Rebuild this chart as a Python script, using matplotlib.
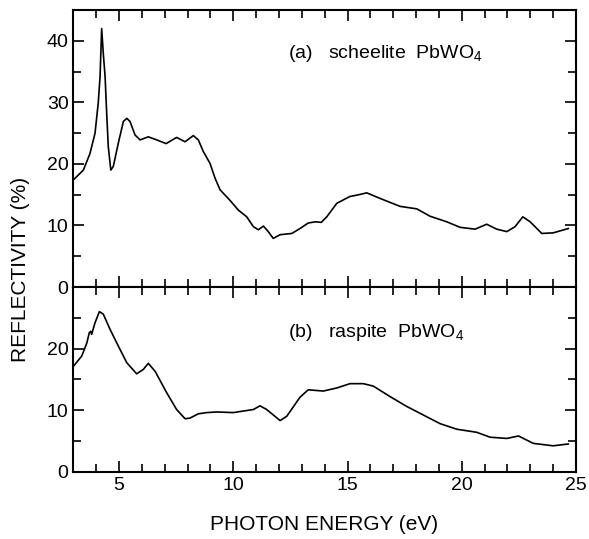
import matplotlib.pyplot as plt
from matplotlib.ticker import MultipleLocator

plt.rcParams['font.family'] = ['Liberation Sans', 'DejaVu Sans']
plt.rcParams['mathtext.fontset'] = 'custom'
plt.rcParams['mathtext.rm'] = 'Liberation Sans'
plt.rcParams['mathtext.it'] = 'Liberation Sans:italic'
plt.rcParams['mathtext.default'] = 'rm'

# (a) scheelite PbWO4
energy_a = [3.0, 3.44, 3.73, 3.95, 4.09, 4.17, 4.24, 4.31, 4.39, 4.46, 4.53, 4.64,
            4.75, 4.97, 5.19, 5.34, 5.48, 5.70, 5.92, 6.28, 6.65, 7.06, 7.52, 7.89,
            8.25, 8.47, 8.69, 8.98, 9.2, 9.42, 9.85, 10.22, 10.59, 10.88, 11.1, 11.32,
            11.53, 11.75, 12.05, 12.56, 12.92, 13.28, 13.6, 13.85, 14.09, 14.53,
            15.1, 15.5, 15.84, 16.42, 17.3, 18.03, 18.61, 19.34, 19.92, 20.58, 21.09,
            21.53, 21.97, 22.33, 22.67, 22.99, 23.5, 24.0, 24.66]
refl_a = [17.4, 19.0, 21.7, 25.0, 29.9, 34.2, 42.0, 38.0, 34.2, 28.2, 22.8, 19.0,
          19.6, 23.4, 26.9, 27.4, 26.9, 24.7, 23.9, 24.4, 23.9, 23.3, 24.3, 23.6,
          24.6, 23.9, 22.0, 20.1, 17.7, 15.8, 14.1, 12.5, 11.4, 9.8, 9.3, 9.9,
          9.0, 7.9, 8.5, 8.7, 9.5, 10.4, 10.6, 10.5, 11.4, 13.6,
          14.7, 15.0, 15.3, 14.4, 13.1, 12.7, 11.5, 10.6, 9.7, 9.4, 10.2,
          9.4, 9.0, 9.8, 11.4, 10.6, 8.7, 8.8, 9.5]

# (b) raspite PbWO4
energy_b = [3.0, 3.37, 3.59, 3.70, 3.76, 3.80, 3.95, 4.14, 4.31, 4.61, 4.97, 5.34,
            5.77, 6.06, 6.28, 6.58, 7.09, 7.52, 7.89, 8.1, 8.47, 8.84, 9.28, 10.0,
            10.88, 11.17, 11.46, 12.05, 12.34, 12.92, 13.28, 13.94, 14.53, 15.11,
            15.69, 16.13, 16.86, 17.59, 18.32, 19.05, 19.78, 20.65, 21.24, 21.97,
            22.48, 23.13, 24.0, 24.66]
refl_b = [17.1, 18.8, 20.9, 22.6, 22.8, 22.3, 24.2, 26.0, 25.6, 23.1, 20.4, 17.7,
          15.9, 16.6, 17.6, 16.3, 12.8, 10.1, 8.6, 8.7, 9.4, 9.6, 9.7, 9.6,
          10.1, 10.7, 10.1, 8.3, 9.0, 12.1, 13.3, 13.1, 13.6, 14.3,
          14.3, 13.9, 12.2, 10.6, 9.2, 7.8, 6.9, 6.4, 5.6, 5.4,
          5.8, 4.6, 4.2, 4.5]

fig = plt.figure(figsize=(5.89, 5.39), dpi=100)
ax1 = fig.add_axes([0.1245, 0.4675, 0.8535, 0.5139])
ax2 = fig.add_axes([0.1245, 0.1249, 0.8535, 0.3426])

for ax in (ax1, ax2):
    ax.set_xlim(3, 25)
    ax.xaxis.set_major_locator(MultipleLocator(5))
    ax.xaxis.set_minor_locator(MultipleLocator(1))
    ax.yaxis.set_major_locator(MultipleLocator(10))
    ax.yaxis.set_minor_locator(MultipleLocator(5))
    ax.tick_params(which='both', direction='in', top=True, right=True,
                   labelsize=14, width=1.2)
    ax.tick_params(which='major', length=8)
    ax.tick_params(which='minor', length=6)
    for s in ax.spines.values():
        s.set_linewidth(1.5)

ax1.plot(energy_a, refl_a, color='black', lw=1.2)
ax1.set_ylim(0, 45)
ax1.set_yticks([0, 10, 20, 30, 40])
ax1.tick_params(labelbottom=False)
ax1.text(12.4, 38, '(a)   scheelite  PbWO$_4$', fontsize=14, va='center')

ax2.plot(energy_b, refl_b, color='black', lw=1.2)
ax2.set_ylim(0, 30)
ax2.set_yticks([0, 10, 20])
ax2.text(12.4, 22.6, '(b)   raspite  PbWO$_4$', fontsize=14, va='center')

fig.text(0.035, 0.5, 'REFLECTIVITY (%)', rotation=90, fontsize=15,
         ha='center', va='center')
fig.text(0.551, 0.026, 'PHOTON ENERGY (eV)', fontsize=15, ha='center', va='center')

fig.savefig('out.png', dpi=100)
